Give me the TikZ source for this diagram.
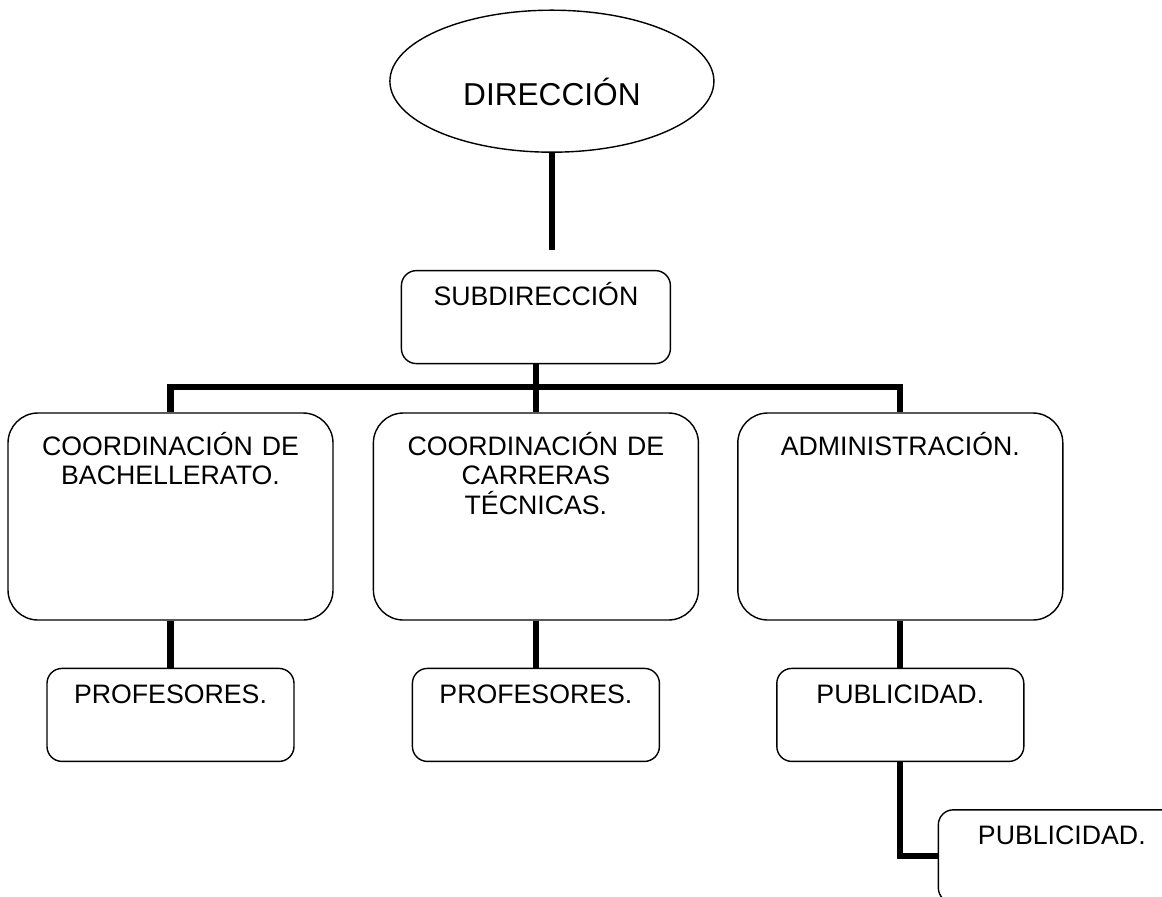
\documentclass[tikz,border=0pt]{standalone}
\usepackage{fontspec}
\setmainfont{Liberation Sans}
\usetikzlibrary{positioning,shapes.geometric}

\begin{document}
\begin{tikzpicture}[jefe/.style={ellipse,draw,line width=0.8pt,minimum width=6.48cm,minimum height=2.84cm,text height=28.4pt,text depth=0.8pt,font=\fontsize{18}{21}\selectfont},
		caja/.style={draw,line width=0.8pt,rounded corners=0.3cm,inner sep=0pt,align=center,text width=4.94cm,text height=0.7cm,text depth=1.16cm,font=\fontsize{15.2}{17}\selectfont},
		coord/.style={caja,rounded corners=0.6cm,text width=6.5cm,text height=0.84cm,text depth=3.3cm},
		linea/.style={line width=3.6pt}]
		\useasboundingbox (0,0) rectangle (23.24,-17.92);

		\node[coord] (cb) at (3.41,-10.33) {COORDINACIÓN DE\\BACHELLERATO.};
		\node[coord] (ct) [right=0.78cm of cb] {COORDINACIÓN DE\\CARRERAS\\TÉCNICAS.};
		\node[coord] (ad) [right=0.76cm of ct] {ADMINISTRACIÓN.};
		\node[caja,text width=5.38cm] (sub) [above=0.96cm of ct] {SUBDIRECCIÓN};
		\node[jefe] (dir) [above=2.34cm of sub,xshift=0.32cm] {DIRECCIÓN};
		\node[caja] (pb) [below=0.94cm of cb] {PROFESORES.};
		\node[caja] (pt) [below=0.94cm of ct] {PROFESORES.};
		\node[caja] (pu) [below=0.94cm of ad] {PUBLICIDAD.};
		\node[caja] (pu2) [below=0.94cm of pu,xshift=3.23cm] {PUBLICIDAD.};

		\coordinate[below=1.94cm of dir] (dirfin);
		\coordinate[below=0.46cm of sub] (barra);

		\draw[linea] (dir) -- (dirfin);
		\draw[linea] (sub) -- (ct);
		\draw[linea] (cb.north) |- (barra) -| (ad.north);
		\draw[linea] (cb) -- (pb);
		\draw[linea] (ct) -- (pt);
		\draw[linea] (ad) -- (pu);
		\draw[linea] (pu.south) |- (pu2.west);
	\end{tikzpicture}
\end{document}
